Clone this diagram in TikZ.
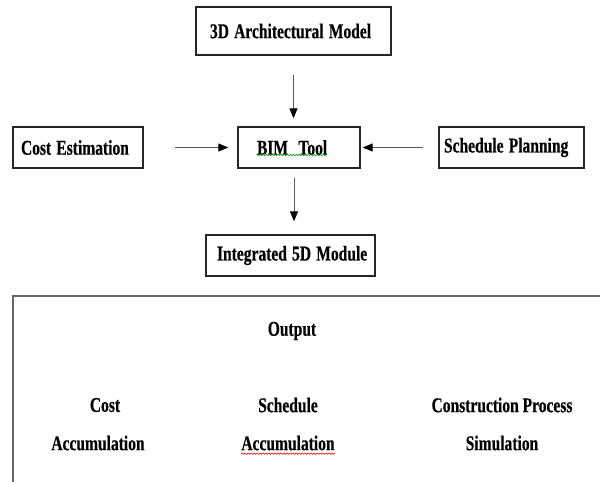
\documentclass[tikz,border=0pt]{standalone}
\usepackage{fontspec}
\setmainfont{Liberation Serif}[BoldFeatures={FakeBold=0.5}]
\usetikzlibrary{arrows.meta,calc,decorations.pathmorphing}
\newcommand\nrw[1]{\scalebox{0.74}[1]{#1}}
\tikzset{
  boxnode/.style={draw=black!85, line width=1.3pt, inner sep=0pt, minimum height=41pt},
  lbl/.style={font=\bfseries\fontsize{21}{24}\selectfont},
  plain/.style={lbl, inner sep=0pt},
  arr/.style={draw=black!65, line width=1pt, -{Triangle[length=10pt,width=8pt,color=black]}},
  squig/.style={line width=0.6pt, decorate, decoration={snake, amplitude=0.8pt, segment length=3pt}},
  frame/.style={draw=black!60, line width=2pt}
}
\begin{document}
\begin{tikzpicture}[x=1pt,y=-1pt]
\useasboundingbox (0,0) rectangle (600,482);
% top row boxes
\node[boxnode, lbl, minimum height=48pt, inner xsep=14pt, text width=167pt, align=left] (arch) at (293.5,31) {\nrw{3D Architectural Model}};
\node[boxnode, lbl, inner xsep=8pt, text width=114pt, align=left] (cost) at (78,147.5) {\nrw{Cost Estimation}};
\node[boxnode, lbl, inner xsep=19pt, text width=84pt, align=left] (bim) at (299,147.5) {\nrw{BIM\ \ Tool}};
\node[boxnode, lbl, inner xsep=5pt, text width=135pt, align=left] (sched) at (511.5,147.5) {\nrw{Schedule Planning}};
\node[boxnode, lbl, inner xsep=11pt, text width=147pt, align=center] (integ) at (290.5,255.5) {\nrw{Integrated 5D Module}};
% connectors
\draw[arr, shorten <=19pt, shorten >=8pt] (arch.south) -- (arch.south |- bim.north);
\draw[arr, shorten <=31.5pt, shorten >=9pt] (cost.east) -- (bim.west);
\draw[arr, shorten <=15pt, shorten >=2pt] (sched.west) -- (bim.east);
\draw[arr, shorten <=9pt, shorten >=13pt] ($(bim.south)+(-5,0)$) -- ($(integ.north)+(3.5,0)$);
% spell-check squiggle under BIM Tool
\draw[squig, green!60!black] ($(bim.west)+(19,7.5)$) -- ($(bim.west)+(89,7.5)$);
% output frame
\draw[frame] (13,482) -- (13,296) -- (600,296);
\node[plain] (out) at (292,331) {\nrw{Output}};
\node[plain] (c1a) at (105,405) {\nrw{Cost}};
\node[plain] (c1b) at (98,443) {\nrw{Accumulation}};
\node[plain] (c2a) at (288,405) {\nrw{Schedule}};
\node[plain] (c2b) at (288,443) {\nrw{Accumulation}};
\node[plain] (c3a) at (502,405) {\nrw{Construction Process}};
\node[plain] (c3b) at (502,443) {\nrw{Simulation}};
\draw[squig, red!85!black] ($(c2b.south west)+(0,3)$) -- ($(c2b.south east)+(0,3)$);
\end{tikzpicture}
\end{document}
